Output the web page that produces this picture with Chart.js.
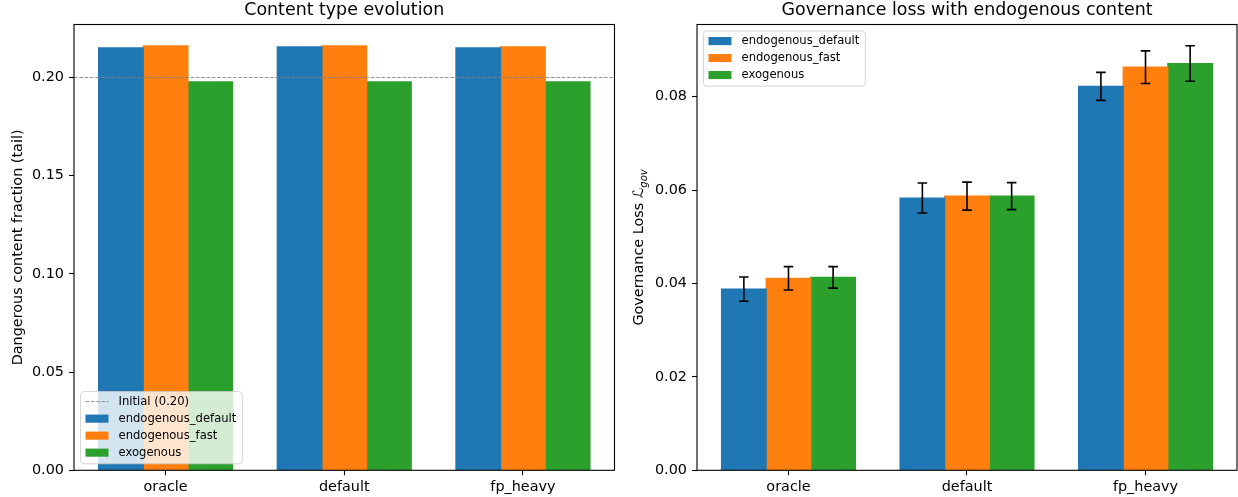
<!DOCTYPE html>
<html>
<head>
<meta charset="utf-8">
<script src="https://cdn.jsdelivr.net/npm/chart.js@4.4.1/dist/chart.umd.min.js"></script>
<style>
  html, body { margin: 0; padding: 0; background: #ffffff; }
  #wrap { position: relative; width: 1238px; height: 497px; overflow: hidden; }
  .pane { position: absolute; top: 0; width: 619px; height: 497px; }
  #paneLeft { left: 0; }
  #paneRight { left: 619px; }
  canvas { display: block; }
</style>
</head>
<body>
<div id="wrap">
  <div class="pane" id="paneLeft"><canvas id="tailChart" width="619" height="497"></canvas></div>
  <div class="pane" id="paneRight"><canvas id="lossChart" width="619" height="497"></canvas></div>
</div>
<script>
// ---- data ----
const categories = ['oracle', 'default', 'fp_heavy'];
const seriesNames = ['endogenous_default', 'endogenous_fast', 'exogenous'];
const seriesColors = ['#1f77b4', '#ff7f0e', '#2ca02c'];

// Dangerous content fraction in the tail of each run
const tailDefault = [0.2151, 0.2156, 0.2151];
const tailFast    = [0.2162, 0.2162, 0.2156];
const tailExo     = [0.1978, 0.1978, 0.1978];
const initialFraction = 0.20;
const initialLabel = 'Initial (0.20)';
const tailTicks = [0.00, 0.05, 0.10, 0.15, 0.20];

// Governance loss (mean and error)
const lossDefault = [0.0388, 0.0583, 0.0822];
const lossFast    = [0.0411, 0.0587, 0.0863];
const lossExo     = [0.0413, 0.0587, 0.0871];
const errDefault  = [0.0026, 0.0032, 0.0030];
const errFast     = [0.0025, 0.0030, 0.0035];
const errExo      = [0.0023, 0.0029, 0.0038];
const lossTicks = [0.00, 0.02, 0.04, 0.06, 0.08];

// ---- styling helpers ----
const FONT = '"DejaVu Sans", "Liberation Sans", sans-serif';
const TICK_SIZE = 14.4;
const TITLE_SIZE = 17.4;
const LEGEND_SIZE = 11.6;

Chart.defaults.font.family = FONT;
Chart.defaults.color = '#000000';

const BAR_W = 0.25;
const N_SERIES = seriesNames.length;
const groupHalf = BAR_W * N_SERIES / 2;
const xSpan = (categories.length - 1) + 2 * groupHalf;
const xMin = -groupHalf - 0.05 * xSpan;
const xMax = (categories.length - 1) + groupHalf + 0.05 * xSpan;

function toPoints(vals) {
  return vals.map((v, i) => ({ x: i, y: v }));
}

// Error bars drawn on top of each bar, positioned via the chart's scales
const errorBarPlugin = {
  id: 'errorBars',
  afterDatasetsDraw(chart, args, opts) {
    if (!opts || !opts.errors) return;
    const { ctx } = chart;
    const yScale = chart.scales.y;
    ctx.save();
    ctx.strokeStyle = '#000000';
    ctx.lineWidth = 1.6;
    chart.data.datasets.forEach((ds, d) => {
      const errs = opts.errors[d];
      if (!errs) return;
      const meta = chart.getDatasetMeta(d);
      meta.data.forEach((bar, i) => {
        const v = ds.data[i].y;
        const yTop = yScale.getPixelForValue(v + errs[i]);
        const yBot = yScale.getPixelForValue(v - errs[i]);
        const x = bar.x;
        const cap = 4.8;
        ctx.beginPath();
        ctx.moveTo(x, yTop); ctx.lineTo(x, yBot);
        ctx.moveTo(x - cap, yTop); ctx.lineTo(x + cap, yTop);
        ctx.moveTo(x - cap, yBot); ctx.lineTo(x + cap, yBot);
        ctx.stroke();
      });
    });
    ctx.restore();
  }
};

// Horizontal dashed reference line
const refLinePlugin = {
  id: 'refLine',
  afterDatasetsDraw(chart, args, opts) {
    if (!opts || opts.value === undefined) return;
    const { ctx, chartArea } = chart;
    const y = chart.scales.y.getPixelForValue(opts.value);
    ctx.save();
    ctx.strokeStyle = 'rgba(128,128,128,0.85)';
    ctx.lineWidth = 1;
    ctx.setLineDash([3.7, 1.6]);
    ctx.beginPath();
    ctx.moveTo(chartArea.left, y);
    ctx.lineTo(chartArea.right, y);
    ctx.stroke();
    ctx.restore();
  }
};

// Axes box around the plotting area
const framePlugin = {
  id: 'frame',
  afterDraw(chart) {
    const { ctx, chartArea } = chart;
    ctx.save();
    ctx.strokeStyle = '#000000';
    ctx.lineWidth = 1.1;
    ctx.strokeRect(chartArea.left, chartArea.top,
                   chartArea.right - chartArea.left, chartArea.bottom - chartArea.top);
    ctx.restore();
  }
};

// Legend box placed inside the plotting area
const innerLegendPlugin = {
  id: 'innerLegend',
  afterDraw(chart, args, opts) {
    if (!opts || !opts.corner) return;
    const { ctx, chartArea } = chart;
    const entries = [];
    if (opts.refLabel) entries.push({ kind: 'line', label: opts.refLabel });
    chart.data.datasets.forEach(ds => entries.push({ kind: 'patch', label: ds.label, color: ds.backgroundColor }));

    ctx.save();
    ctx.font = `${LEGEND_SIZE}px ${FONT}`;
    const textW = Math.max(...entries.map(e => ctx.measureText(e.label).width));
    const rowGap = 17;
    const w = 38 + textW + 6;
    const h = 10 + (entries.length - 1) * rowGap + 11.2;
    const pad = 6.5;
    const left = chartArea.left + pad;
    const top = opts.corner === 'lower left' ? chartArea.bottom - pad - h : chartArea.top + pad;

    // frame
    const r = 3.5;
    ctx.beginPath();
    ctx.moveTo(left + r, top);
    ctx.lineTo(left + w - r, top);
    ctx.arcTo(left + w, top, left + w, top + r, r);
    ctx.lineTo(left + w, top + h - r);
    ctx.arcTo(left + w, top + h, left + w - r, top + h, r);
    ctx.lineTo(left + r, top + h);
    ctx.arcTo(left, top + h, left, top + h - r, r);
    ctx.lineTo(left, top + r);
    ctx.arcTo(left, top, left + r, top, r);
    ctx.closePath();
    ctx.fillStyle = 'rgba(255,255,255,0.8)';
    ctx.fill();
    ctx.strokeStyle = 'rgba(204,204,204,0.8)';
    ctx.lineWidth = 1;
    ctx.stroke();

    entries.forEach((e, k) => {
      const cy = top + 10 + k * rowGap;
      const hx = left + 5;
      if (e.kind === 'line') {
        ctx.strokeStyle = 'rgba(128,128,128,0.85)';
        ctx.lineWidth = 1;
        ctx.setLineDash([3.7, 1.6]);
        ctx.beginPath();
        ctx.moveTo(hx, cy); ctx.lineTo(hx + 23, cy);
        ctx.stroke();
        ctx.setLineDash([]);
      } else {
        ctx.fillStyle = e.color;
        ctx.fillRect(hx, cy - 4, 23, 8.1);
      }
      ctx.fillStyle = '#000000';
      ctx.textBaseline = 'middle';
      ctx.textAlign = 'left';
      ctx.fillText(e.label, left + 38, cy);
    });
    ctx.restore();
  }
};

// Y-axis caption with a calligraphic L and subscript
const mathTitlePlugin = {
  id: 'mathTitle',
  afterDraw(chart, args, opts) {
    if (!opts || !opts.parts) return;
    const { ctx, chartArea } = chart;
    ctx.save();
    const pieces = opts.parts.map(p => {
      ctx.font = p.font;
      return { ...p, w: ctx.measureText(p.text).width };
    });
    const total = pieces.reduce((s, p) => s + p.w, 0);
    ctx.translate(opts.x, (chartArea.top + chartArea.bottom) / 2);
    ctx.rotate(-Math.PI / 2);
    ctx.fillStyle = '#000000';
    ctx.textBaseline = 'alphabetic';
    ctx.textAlign = 'left';
    let x = -total / 2;
    pieces.forEach(p => {
      ctx.font = p.font;
      ctx.fillText(p.text, x, 5.2 + (p.dy || 0));
      x += p.w;
    });
    ctx.restore();
  }
};

function buildPanel(canvasId, cfg) {
  const datasets = cfg.series.map((vals, d) => ({
    label: seriesNames[d],
    data: toPoints(vals),
    backgroundColor: seriesColors[d],
    borderWidth: 0,
    inflateAmount: 0.6,
    categoryPercentage: BAR_W * N_SERIES,
    barPercentage: 1.0
  }));
  const allTops = cfg.series.flatMap((vals, d) =>
    vals.map((v, i) => v + (cfg.errors ? cfg.errors[d][i] : 0)));
  const yMax = Math.max(...allTops) * 1.05;

  return new Chart(document.getElementById(canvasId), {
    type: 'bar',
    data: { datasets },
    options: {
      responsive: false,
      animation: false,
      devicePixelRatio: 1,
      layout: { padding: { left: 0, right: cfg.padRight, top: 0, bottom: 0 } },
      scales: {
        x: {
          type: 'linear',
          min: xMin,
          max: xMax,
          offset: false,
          afterBuildTicks: s => { s.ticks = categories.map((c, i) => ({ value: i })); },
          afterFit: s => { s.height = 26.7; },
          ticks: {
            autoSkip: false,
            maxRotation: 0,
            padding: 3,
            color: '#000000',
            font: { size: TICK_SIZE },
            callback: v => categories[v]
          },
          grid: { display: true, offset: false, drawOnChartArea: false, drawTicks: true, tickLength: 5, tickColor: '#000000', tickWidth: 1.1 },
          border: { display: false }
        },
        y: {
          type: 'linear',
          min: 0,
          max: yMax,
          afterBuildTicks: s => { s.ticks = cfg.yTicks.map(v => ({ value: v })); },
          afterFit: s => { s.width = cfg.yWidth; },
          ticks: {
            autoSkip: false,
            padding: 5,
            color: '#000000',
            font: { size: TICK_SIZE },
            callback: v => Number(v).toFixed(2)
          },
          grid: { display: true, drawOnChartArea: false, drawTicks: true, tickLength: 5, tickColor: '#000000', tickWidth: 1.1 },
          border: { display: false },
          title: cfg.yTitle ? {
            display: true,
            text: cfg.yTitle,
            color: '#000000',
            font: { size: TICK_SIZE, lineHeight: 1.2 },
            padding: { top: cfg.yTitlePad, bottom: 0 }
          } : { display: false }
        }
      },
      plugins: {
        legend: { display: false },
        tooltip: { enabled: false },
        title: {
          display: true,
          text: cfg.title,
          fullSize: false,
          color: '#000000',
          font: { size: TITLE_SIZE, weight: 'normal', lineHeight: 1.0 },
          padding: { top: 1.5, bottom: 5.6 }
        },
        errorBars: { errors: cfg.errors || null },
        refLine: cfg.refValue !== undefined ? { value: cfg.refValue } : {},
        innerLegend: { corner: cfg.legendCorner, refLabel: cfg.refLabel || null },
        mathTitle: cfg.mathTitle || {}
      }
    },
    plugins: [errorBarPlugin, refLinePlugin, framePlugin, innerLegendPlugin, mathTitlePlugin]
  });
}

buildPanel('tailChart', {
  title: 'Content type evolution',
  series: [tailDefault, tailFast, tailExo],
  yTicks: tailTicks,
  yWidth: 74,
  padRight: 4.5,
  yTitle: 'Dangerous content fraction (tail)',
  yTitlePad: 9.4,
  refValue: initialFraction,
  refLabel: initialLabel,
  legendCorner: 'lower left'
});

buildPanel('lossChart', {
  title: 'Governance loss with endogenous content',
  series: [lossDefault, lossFast, lossExo],
  errors: [errDefault, errFast, errExo],
  yTicks: lossTicks,
  yWidth: 78,
  padRight: 1,
  legendCorner: 'upper left',
  mathTitle: {
    x: 19,
    parts: [
      { text: 'Governance Loss ', font: `${TICK_SIZE}px ${FONT}` },
      { text: '\u2112', font: `italic ${TICK_SIZE}px ${FONT}` },
      { text: 'gov', font: `italic ${(TICK_SIZE * 0.7).toFixed(1)}px ${FONT}`, dy: 3.6 }
    ]
  }
});
</script>
</body>
</html>
